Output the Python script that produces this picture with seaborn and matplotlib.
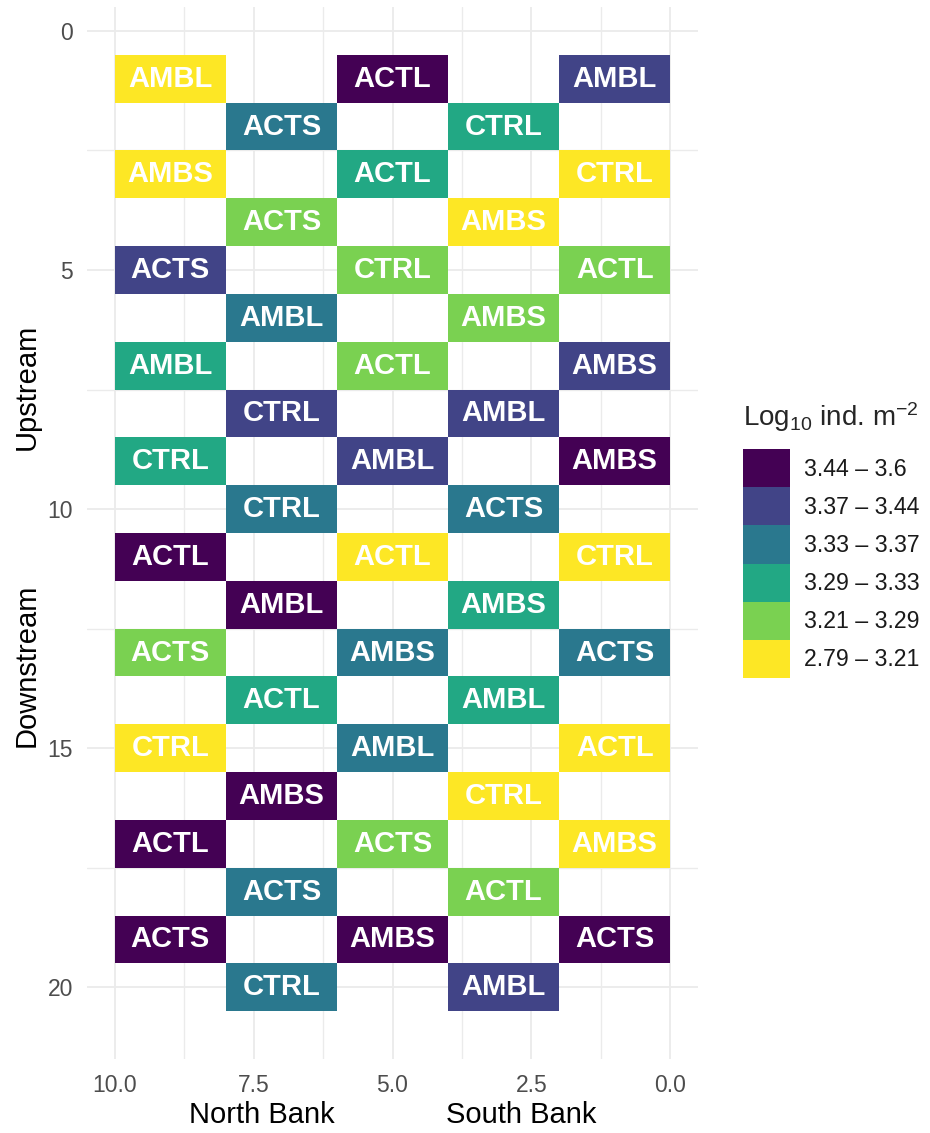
import numpy as np
import pandas as pd
import matplotlib
matplotlib.use("Agg")
import matplotlib.pyplot as plt
from matplotlib.patches import Patch
from matplotlib.ticker import FixedLocator
import seaborn as sns

# ---------------- data ----------------
row = [1, 1, 1, 2, 2, 3, 3, 3, 4, 4, 5, 5, 5, 6, 6, 7, 7, 7, 8, 8,
       9, 9, 9, 10, 10, 11, 11, 11, 12, 12, 13, 13, 13, 14, 14, 15, 15, 15, 16, 16,
       17, 17, 17, 18, 18, 19, 19, 19, 20, 20]
col = [9, 5, 1, 7, 3, 9, 5, 1, 7, 3, 9, 5, 1, 7, 3, 9, 5, 1, 7, 3,
       9, 5, 1, 7, 3, 9, 5, 1, 7, 3, 9, 5, 1, 7, 3, 9, 5, 1, 7, 3,
       9, 5, 1, 7, 3, 9, 5, 1, 7, 3]
treatment = ["AMBL", "ACTL", "AMBL", "ACTS", "CTRL",
             "AMBS", "ACTL", "CTRL", "ACTS", "AMBS",
             "ACTS", "CTRL", "ACTL", "AMBL", "AMBS",
             "AMBL", "ACTL", "AMBS", "CTRL", "AMBL",
             "CTRL", "AMBL", "AMBS", "CTRL", "ACTS",
             "ACTL", "ACTL", "CTRL", "AMBL", "AMBS",
             "ACTS", "AMBS", "ACTS", "ACTL", "AMBL",
             "CTRL", "AMBL", "ACTL", "AMBS", "CTRL",
             "ACTL", "ACTS", "AMBS", "ACTS", "ACTL",
             "ACTS", "AMBS", "ACTS", "CTRL", "AMBL"]
density_class = [5, 0, 1, 2, 3,
                 5, 3, 5, 4, 5,
                 1, 4, 4, 2, 4,
                 3, 4, 1, 1, 1,
                 3, 1, 0, 2, 2,
                 0, 5, 5, 0, 3,
                 4, 2, 2, 3, 3,
                 5, 2, 5, 0, 5,
                 0, 4, 5, 2, 4,
                 0, 0, 0, 2, 1]
class_labels = ["3.44 \u2013 3.6", "3.37 \u2013 3.44", "3.33 \u2013 3.37",
                "3.29 \u2013 3.33", "3.21 \u2013 3.29", "2.79 \u2013 3.21"]
class_colors = ["#440154", "#414487", "#2A788E", "#22A884", "#7AD151", "#FDE725"]
x_ticks = [10.0, 7.5, 5.0, 2.5, 0.0]
y_ticks = [0, 5, 10, 15, 20]

df = pd.DataFrame({"row": row, "col": col, "treatment": treatment,
                   "cls": density_class})

# ---------------- style ----------------
sns.set_theme(style="whitegrid")
plt.rcParams["font.family"] = ["Liberation Sans", "DejaVu Sans"]
plt.rcParams["mathtext.fontset"] = "custom"
plt.rcParams["mathtext.rm"] = "Liberation Sans"
plt.rcParams["mathtext.it"] = "Liberation Sans:italic"
plt.rcParams["mathtext.bf"] = "Liberation Sans:bold"

fig = plt.figure(figsize=(9.3, 11.33), dpi=100)
ax = fig.add_axes([87 / 930, 1 - 1059 / 1133, (698 - 87) / 930, (1059 - 7) / 1133])
ax.set_facecolor("white")
for s in ax.spines.values():
    s.set_visible(False)

# tiles
palette = dict(enumerate(class_colors))
ax.bar(df["col"], height=1.0, width=2.0, bottom=df["row"] - 0.5,
       color=[palette[c] for c in df["cls"]], edgecolor="none", zorder=2)
for _, r in df.iterrows():
    ax.text(r["col"], r["row"], r["treatment"], ha="center", va="center",
            color="white", fontweight="bold", fontsize=21, zorder=3)

ax.set_xlim(10.5, -0.5)
ax.set_ylim(21.5, -0.5)
ax.set_xticks(x_ticks)
ax.set_xticklabels([f"{v:.1f}" for v in x_ticks])
ax.set_yticks(y_ticks)
ax.set_yticklabels([str(v) for v in y_ticks])
ax.xaxis.set_minor_locator(FixedLocator([8.75, 6.25, 3.75, 1.25]))
ax.yaxis.set_minor_locator(FixedLocator([2.5, 7.5, 12.5, 17.5]))
ax.grid(True, which="major", color="#EBEBEB", linewidth=1.3, zorder=0)
ax.grid(True, which="minor", color="#EBEBEB", linewidth=1.0, zorder=0)
ax.set_axisbelow(True)
ax.tick_params(axis="both", which="both", length=0, labelsize=16.5, labelcolor="#4D4D4D")
ax.tick_params(axis="y", pad=10)
ax.tick_params(axis="x", pad=11)
ax.set_xlabel("")
ax.set_ylabel("")

# axis titles
fig.text(262 / 930, 1 - 1115 / 1133, "North Bank", ha="center", va="center",
         fontsize=21, color="black")
fig.text(521 / 930, 1 - 1115 / 1133, "South Bank", ha="center", va="center",
         fontsize=21, color="black")
fig.text(27 / 930, 1 - 387 / 1133, "Upstream", ha="center", va="center",
         rotation=90, fontsize=21, color="black")
fig.text(27 / 930, 1 - 665 / 1133, "Downstream", ha="center", va="center",
         rotation=90, fontsize=21, color="black")

# legend
handles = [Patch(facecolor=c, edgecolor="none", label=l)
           for c, l in zip(class_colors, class_labels)]
leg = fig.legend(handles=handles, title=r"Log$_{10}$ ind. m$^{-2}$",
                 loc="center left", bbox_to_anchor=(743 / 930, 1 - 539 / 1133),
                 frameon=False, fontsize=16.7, title_fontsize=20,
                 handlelength=2.03, handleheight=2.15, labelspacing=0.0,
                 handletextpad=0.6, borderpad=0, borderaxespad=0,
                 alignment="left")
leg._legend_box.sep = 11
for t in leg.get_texts():
    t.set_color("#1A1A1A")

fig.savefig("out.png", dpi=100)
